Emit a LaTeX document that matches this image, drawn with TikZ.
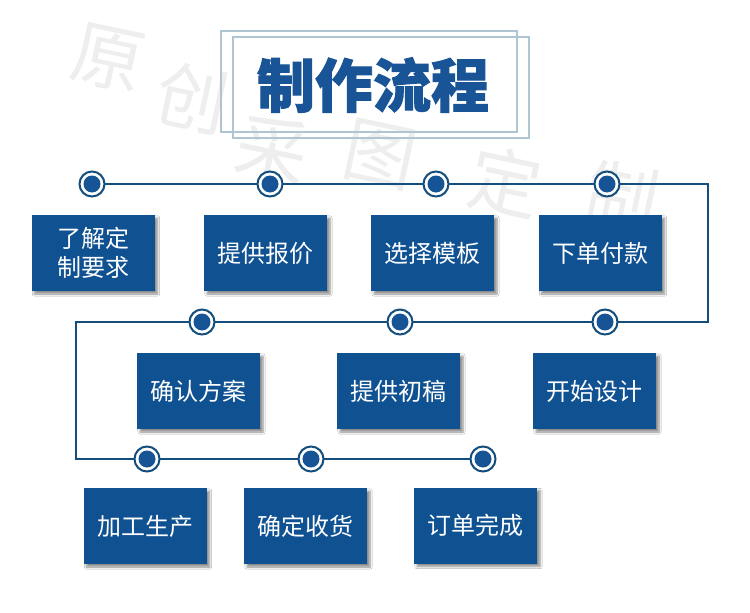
\documentclass[tikz,border=0pt]{standalone}
\usepackage{fontspec}
\setmainfont{Noto Sans CJK SC}[BoldFeatures={FakeBold=1.6}]
\usetikzlibrary{shadows.blur}
\definecolor{boxblue}{RGB}{15,81,145}
\definecolor{linecol}{RGB}{20,78,125}
\definecolor{diskcol}{RGB}{22,84,150}
\definecolor{titleblue}{RGB}{24,84,150}
\definecolor{framecol}{RGB}{175,198,210}
\definecolor{wmcol}{RGB}{238,238,238}
\tikzset{
  stepbox/.style={fill=boxblue, text=white, minimum width=123pt, minimum height=76pt,
    inner sep=0pt, font=\fontsize{24}{29}\selectfont, align=center,
    blur shadow={shadow xshift=3pt, shadow yshift=-3pt, shadow blur steps=6, shadow opacity=45}},
  dot/.style={circle, draw=linecol, line width=2pt, fill=white, minimum size=25pt, inner sep=0pt,
    path picture={\fill[diskcol] (path picture bounding box.center) circle (8.5pt);}},
  flow/.style={draw=linecol, line width=2.5pt},
  frame/.style={draw=framecol, line width=1.3pt},
  wm/.style={text=wmcol, font=\fontsize{72}{72}\selectfont, rotate=-12, inner sep=0pt}
}
\begin{document}
\begin{tikzpicture}[x=1pt, y=-1pt]
\fill[white] (0,0) rectangle (750,613);
\useasboundingbox (0,0) rectangle (750,613);
% watermark
\node[wm] (w1) at (108,58) {原};
\node[wm] (w2) at (192,98) {创};
\node[wm] (w3) at (272,150) {采};
\node[wm] (w4) at (380,155) {图};
\node[wm] (w5) at (505,182) {定};
\node[wm] (w6) at (622,196) {制};
% title frame
\draw[frame] (221,31) rectangle (517,132);
\draw[frame] (233,37) rectangle (529,138);
\node[text=titleblue, font=\fontsize{58}{58}\selectfont\bfseries] (title) at (373,85) {制作流程};
% connector path
\coordinate (p1) at (92,184);
\coordinate (p2) at (270,184);
\coordinate (p3) at (436,184);
\coordinate (p4) at (607,184);
\coordinate (k1) at (708,184);
\coordinate (k2) at (708,322);
\coordinate (p5) at (605,322);
\coordinate (p6) at (400,322);
\coordinate (p7) at (202,322);
\coordinate (k3) at (76,322);
\coordinate (k4) at (76,459);
\coordinate (p8) at (147,459);
\coordinate (p9) at (311,459);
\coordinate (p10) at (483,459);
\draw[flow] (p1) -- (k1) -- (k2) -- (k3) -- (k4) -- (p10);
% dots
\node[dot] (c1) at (p1) {};
\node[dot] (c2) at (p2) {};
\node[dot] (c3) at (p3) {};
\node[dot] (c4) at (p4) {};
\node[dot] (c5) at (p5) {};
\node[dot] (c6) at (p6) {};
\node[dot] (c7) at (p7) {};
\node[dot] (c8) at (p8) {};
\node[dot] (c9) at (p9) {};
\node[dot] (c10) at (p10) {};
% boxes
\node[stepbox] (b1) at (93,253) {了解定\\制要求};
\node[stepbox] (b2) at (265.5,253) {提供报价};
\node[stepbox] (b3) at (432.5,253) {选择模板};
\node[stepbox] (b4) at (600,253) {下单付款};
\node[stepbox] (b5) at (198.5,391) {确认方案};
\node[stepbox] (b6) at (398.5,391) {提供初稿};
\node[stepbox] (b7) at (594.5,391) {开始设计};
\node[stepbox] (b8) at (145,526) {加工生产};
\node[stepbox] (b9) at (305.5,526) {确定收货};
\node[stepbox] (b10) at (475.5,525.5) {订单完成};
\end{tikzpicture}
\end{document}
